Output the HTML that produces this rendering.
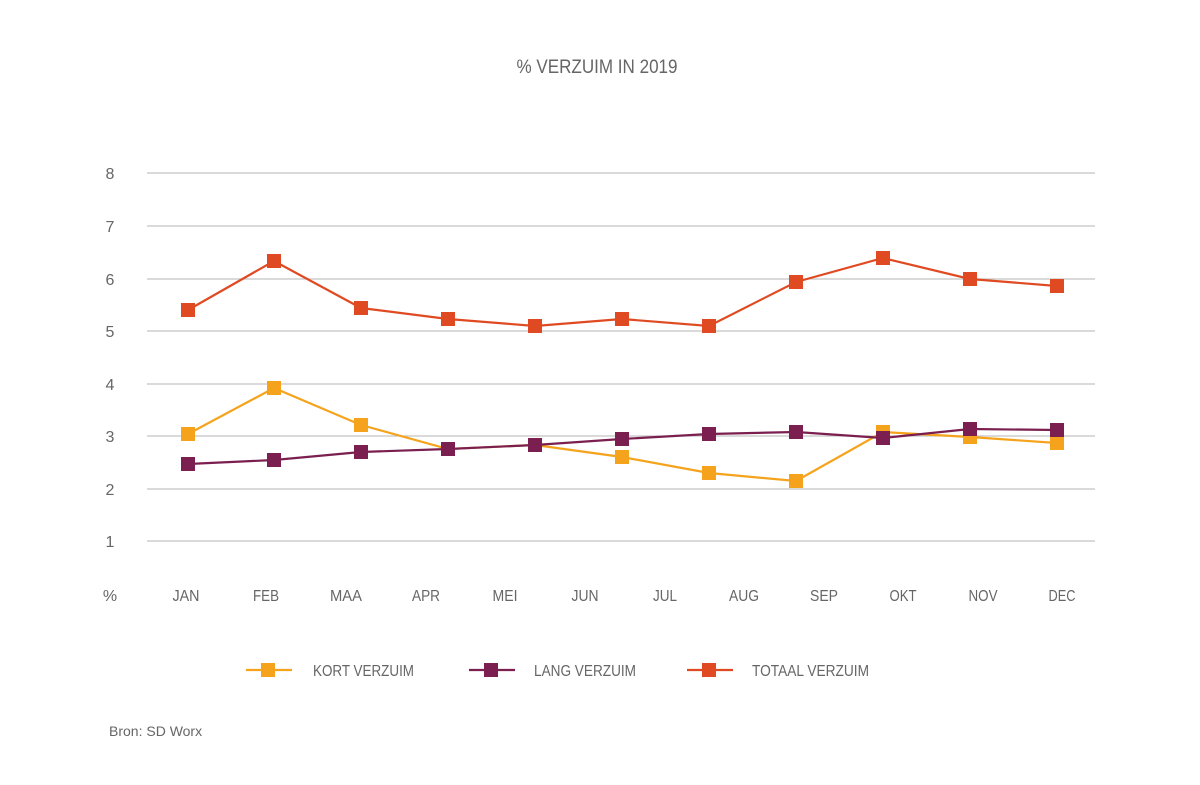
<!DOCTYPE html>
<html><head><meta charset="utf-8"><style>
body{margin:0;background:#fff;}
svg{display:block}
text{font-family:"Liberation Sans Narrow","Liberation Sans",sans-serif;fill:#666;}
</style></head><body>
<svg width="1200" height="785" viewBox="0 0 1200 785">
<text x="597" y="73" font-size="19" text-anchor="middle" textLength="161" lengthAdjust="spacingAndGlyphs">% VERZUIM IN 2019</text>
<g stroke="#c4c4c4" stroke-width="1.2">
<line x1="147" x2="1095" y1="173" y2="173"/><line x1="147" x2="1095" y1="226" y2="226"/>
<line x1="147" x2="1095" y1="279" y2="279"/><line x1="147" x2="1095" y1="331" y2="331"/>
<line x1="147" x2="1095" y1="384" y2="384"/><line x1="147" x2="1095" y1="436" y2="436"/>
<line x1="147" x2="1095" y1="489" y2="489"/><line x1="147" x2="1095" y1="541" y2="541"/>
</g>
<g font-size="16" text-anchor="middle" lengthAdjust="spacingAndGlyphs">
<text x="110" y="179">8</text><text x="110" y="232">7</text><text x="110" y="285">6</text><text x="110" y="337">5</text>
<text x="110" y="390">4</text><text x="110" y="442">3</text><text x="110" y="495">2</text><text x="110" y="547">1</text>
<text x="110" y="601">%</text>
<text x="186" y="601" textLength="27" lengthAdjust="spacingAndGlyphs">JAN</text><text x="266" y="601" textLength="26" lengthAdjust="spacingAndGlyphs">FEB</text><text x="346" y="601" textLength="32" lengthAdjust="spacingAndGlyphs">MAA</text><text x="426" y="601" textLength="28" lengthAdjust="spacingAndGlyphs">APR</text>
<text x="505" y="601" textLength="25" lengthAdjust="spacingAndGlyphs">MEI</text><text x="585" y="601" textLength="27" lengthAdjust="spacingAndGlyphs">JUN</text><text x="665" y="601" textLength="24" lengthAdjust="spacingAndGlyphs">JUL</text><text x="744" y="601" textLength="30" lengthAdjust="spacingAndGlyphs">AUG</text>
<text x="824" y="601" textLength="28" lengthAdjust="spacingAndGlyphs">SEP</text><text x="903" y="601" textLength="27" lengthAdjust="spacingAndGlyphs">OKT</text><text x="983" y="601" textLength="29" lengthAdjust="spacingAndGlyphs">NOV</text><text x="1062" y="601" textLength="27" lengthAdjust="spacingAndGlyphs">DEC</text>
</g>
<g fill="none" stroke-width="2.2">
<polyline stroke="#f5a31c" points="188,434 274,388 361,425 448,449 535,445 622,457 709,473 796,481 883,432 970,437 1057,443"/>
<polyline stroke="#7a1f4f" points="188,464 274,460 361,452 448,449 535,445 622,439 709,434 796,432 883,438 970,429 1057,430"/>
<polyline stroke="#e04a22" points="188,310 274,261 361,308 448,319 535,326 622,319 709,326 796,282 883,258 970,279 1057,286"/>
</g>
<g fill="#f5a31c">
<rect x="181" y="427" width="14" height="14"/><rect x="267" y="381" width="14" height="14"/><rect x="354" y="418" width="14" height="14"/>
<rect x="441" y="442" width="14" height="14"/><rect x="528" y="438" width="14" height="14"/><rect x="615" y="450" width="14" height="14"/>
<rect x="702" y="466" width="14" height="14"/><rect x="789" y="474" width="14" height="14"/><rect x="876" y="425" width="14" height="14"/>
<rect x="963" y="430" width="14" height="14"/><rect x="1050" y="436" width="14" height="14"/>
</g>
<g fill="#7a1f4f">
<rect x="181" y="457" width="14" height="14"/><rect x="267" y="453" width="14" height="14"/><rect x="354" y="445" width="14" height="14"/>
<rect x="441" y="442" width="14" height="14"/><rect x="528" y="438" width="14" height="14"/><rect x="615" y="432" width="14" height="14"/>
<rect x="702" y="427" width="14" height="14"/><rect x="789" y="425" width="14" height="14"/><rect x="876" y="431" width="14" height="14"/>
<rect x="963" y="422" width="14" height="14"/><rect x="1050" y="423" width="14" height="14"/>
</g>
<g fill="#e04a22">
<rect x="181" y="303" width="14" height="14"/><rect x="267" y="254" width="14" height="14"/><rect x="354" y="301" width="14" height="14"/>
<rect x="441" y="312" width="14" height="14"/><rect x="528" y="319" width="14" height="14"/><rect x="615" y="312" width="14" height="14"/>
<rect x="702" y="319" width="14" height="14"/><rect x="789" y="275" width="14" height="14"/><rect x="876" y="251" width="14" height="14"/>
<rect x="963" y="272" width="14" height="14"/><rect x="1050" y="279" width="14" height="14"/>
</g>
<g stroke-width="2.2">
<line x1="246" x2="292" y1="670" y2="670" stroke="#f5a31c"/>
<line x1="469" x2="515" y1="670" y2="670" stroke="#7a1f4f"/>
<line x1="687" x2="733" y1="670" y2="670" stroke="#e04a22"/>
</g>
<rect x="261" y="663" width="14" height="14" fill="#f5a31c"/>
<rect x="484" y="663" width="14" height="14" fill="#7a1f4f"/>
<rect x="702" y="663" width="14" height="14" fill="#e04a22"/>
<g font-size="16">
<text x="313" y="676" textLength="101" lengthAdjust="spacingAndGlyphs">KORT VERZUIM</text>
<text x="534" y="676" textLength="102" lengthAdjust="spacingAndGlyphs">LANG VERZUIM</text>
<text x="752" y="676" textLength="117" lengthAdjust="spacingAndGlyphs">TOTAAL VERZUIM</text>
</g>
<text x="109" y="736" font-size="14" style="font-family:'Liberation Sans',sans-serif">Bron: SD Worx</text>
</svg>
</body></html>
